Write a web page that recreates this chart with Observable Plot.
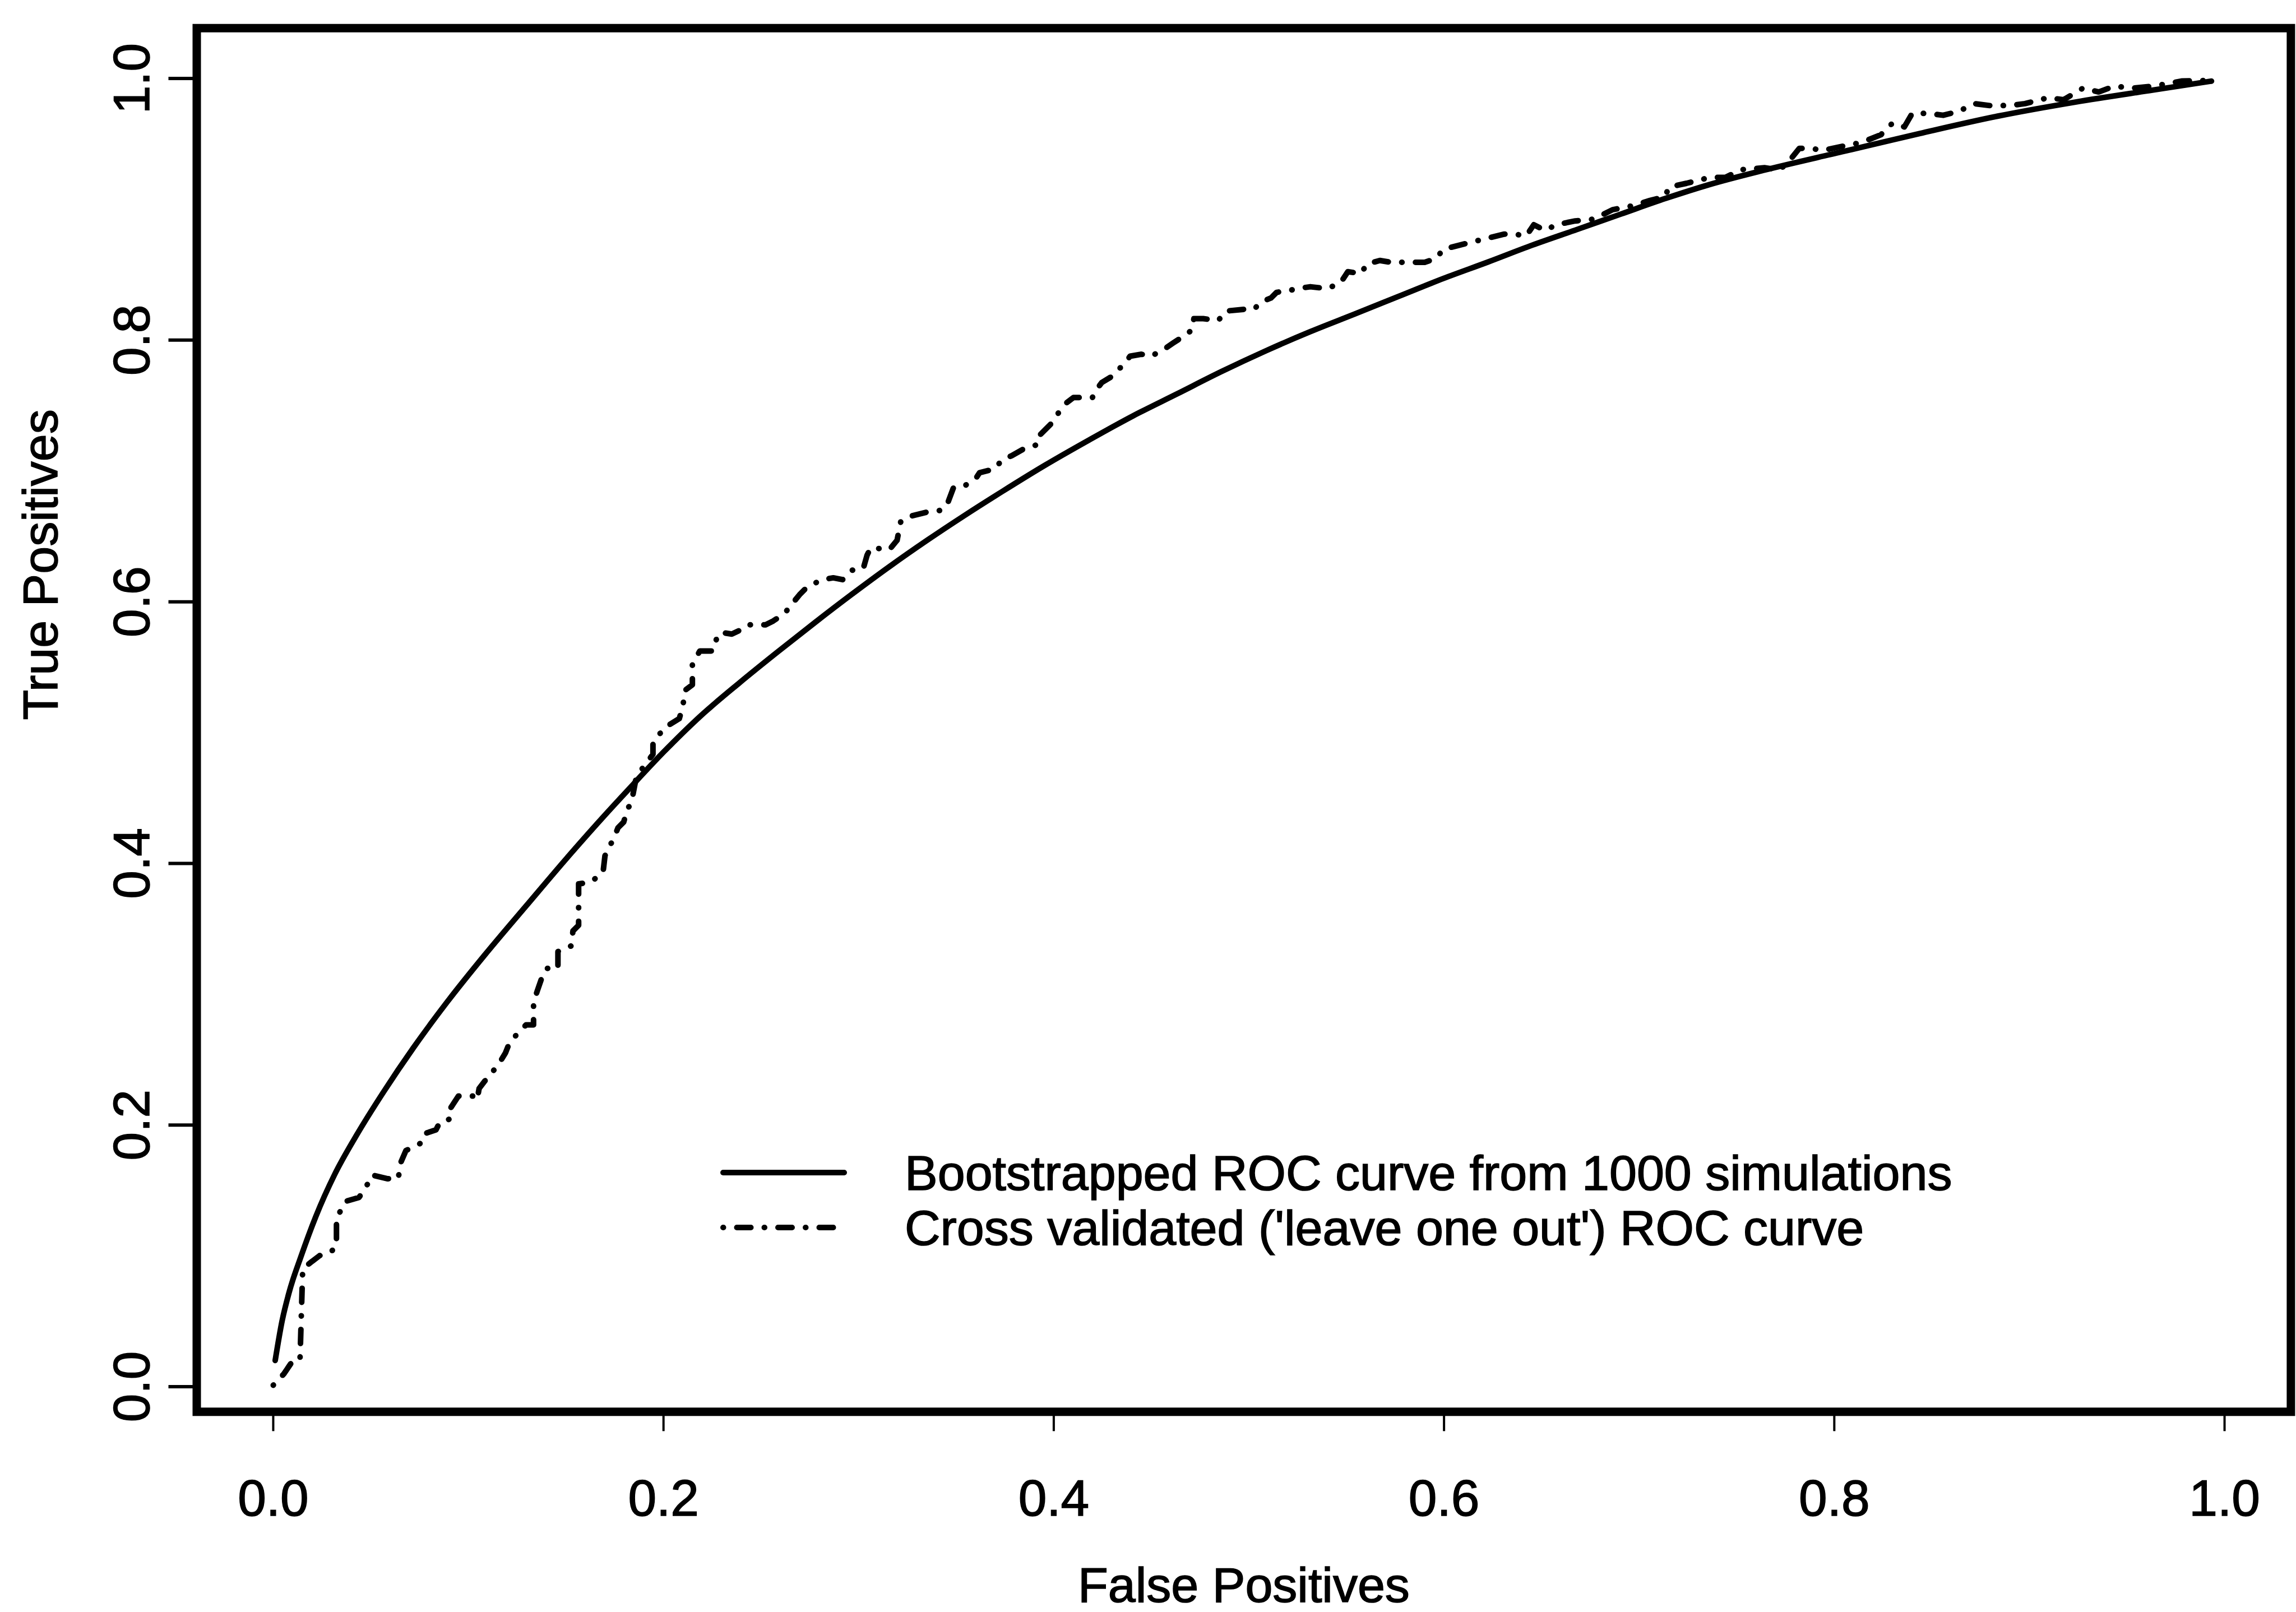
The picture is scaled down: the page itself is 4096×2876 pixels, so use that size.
<!DOCTYPE html>
<html><head><meta charset="utf-8">
<script src="https://cdn.jsdelivr.net/npm/d3@7"></script>
<script src="https://cdn.jsdelivr.net/npm/@observablehq/plot@0.6"></script>
<style>
html,body{margin:0;padding:0;background:#fff;}
#wrap{position:relative;width:4096px;height:2876px;overflow:hidden;}
#wrap svg text{stroke:#000;stroke-width:1.6px;}
</style></head><body><div id="wrap"></div>
<script>
// ---- data ----
const xTicks = [0, 0.2, 0.4, 0.6, 0.8, 1.0];
const yTicks = [0, 0.2, 0.4, 0.6, 0.8, 1.0];
const xTitle = "False Positives";
const yTitle = "True Positives";
const seriesNames = ["Bootstrapped ROC curve from 1000 simulations", "Cross validated ('leave one out') ROC curve"];

// Bootstrapped ROC curve (solid)
const bootX = [0.001, 0.0045, 0.0083, 0.0141, 0.0218, 0.0314, 0.0430, 0.0564, 0.0718, 0.0891, 0.1084, 0.1296, 0.1507, 0.1700, 0.1811, 0.2003, 0.2196, 0.2389, 0.2581, 0.2774, 0.2966, 0.3158, 0.3351, 0.3543, 0.3736, 0.3951, 0.4178, 0.4405, 0.4633, 0.4860, 0.5088, 0.5315, 0.5543, 0.5770, 0.5998, 0.6225, 0.6452, 0.6680, 0.6907, 0.7135, 0.7362, 0.7642, 0.8040, 0.8439, 0.8837, 0.9236, 0.9634, 0.9933];
const bootY = [0.020, 0.050, 0.073, 0.099, 0.130, 0.162, 0.193, 0.225, 0.259, 0.294, 0.330, 0.3675, 0.4045, 0.4370, 0.4550, 0.4855, 0.5135, 0.5380, 0.5612, 0.5839, 0.6058, 0.6269, 0.6470, 0.6660, 0.6843, 0.7040, 0.7234, 0.7420, 0.7590, 0.7760, 0.7919, 0.8065, 0.8200, 0.8336, 0.8472, 0.8597, 0.8726, 0.8845, 0.8964, 0.9083, 0.9190, 0.9300, 0.9440, 0.9580, 0.9712, 0.9820, 0.9912, 0.9980];

// Cross validated (leave one out) ROC curve (dot-dash)
const cvX = [0.0000, 0.0054, 0.0093, 0.0137, 0.0145, 0.0151, 0.0199, 0.0237, 0.0295, 0.0324, 0.0324, 0.0372, 0.0439, 0.0468, 0.0506, 0.0584, 0.0641, 0.0651, 0.0680, 0.0757, 0.0776, 0.0834, 0.0853, 0.0911, 0.0911, 0.0949, 0.1026, 0.1045, 0.1055, 0.1084, 0.1132, 0.1161, 0.1190, 0.1209, 0.1257, 0.1296, 0.1334, 0.1334, 0.1353, 0.1373, 0.1401, 0.1459, 0.1459, 0.1498, 0.1527, 0.1536, 0.1565, 0.1565, 0.1623, 0.1652, 0.1690, 0.1700, 0.1719, 0.1748, 0.1767, 0.1796, 0.1815, 0.1835, 0.1859, 0.1888, 0.1946, 0.1946, 0.2003, 0.2081, 0.2100, 0.2109, 0.2148, 0.2148, 0.2186, 0.2254, 0.2273, 0.2292, 0.2350, 0.2389, 0.2427, 0.2523, 0.2562, 0.2620, 0.2658, 0.2697, 0.2735, 0.2812, 0.2870, 0.2918, 0.2966, 0.3024, 0.3043, 0.3062, 0.3158, 0.3197, 0.3216, 0.3274, 0.3351, 0.3428, 0.3457, 0.3486, 0.3543, 0.3601, 0.3620, 0.3697, 0.3736, 0.3784, 0.3851, 0.3919, 0.3928, 0.3986, 0.4025, 0.4063, 0.4101, 0.4198, 0.4217, 0.4246, 0.4294, 0.4362, 0.4391, 0.4449, 0.4497, 0.4555, 0.4612, 0.4670, 0.4709, 0.4718, 0.4766, 0.4843, 0.4882, 0.4978, 0.5026, 0.5064, 0.5113, 0.5142, 0.5209, 0.5247, 0.5315, 0.5401, 0.5469, 0.5507, 0.5575, 0.5604, 0.5671, 0.5728, 0.5786, 0.5901, 0.5959, 0.5997, 0.6074, 0.6151, 0.6228, 0.6306, 0.6364, 0.6421, 0.6460, 0.6518, 0.6575, 0.6672, 0.6768, 0.6864, 0.6960, 0.7056, 0.7133, 0.7152, 0.7243, 0.7363, 0.7442, 0.7522, 0.7642, 0.7721, 0.7781, 0.7821, 0.7881, 0.7940, 0.8040, 0.8140, 0.8239, 0.8299, 0.8359, 0.8399, 0.8479, 0.8558, 0.8638, 0.8718, 0.8797, 0.8897, 0.8977, 0.9096, 0.9176, 0.9275, 0.9355, 0.9434, 0.9534, 0.9634, 0.9783, 0.9933];
const cvY = [0.0011, 0.0097, 0.0183, 0.0200, 0.0600, 0.0901, 0.0958, 0.1001, 0.1030, 0.1073, 0.1288, 0.1417, 0.1446, 0.1503, 0.1618, 0.1590, 0.1590, 0.1705, 0.1805, 0.1862, 0.1934, 0.1963, 0.2020, 0.2049, 0.2135, 0.2221, 0.2221, 0.2192, 0.2279, 0.2336, 0.2422, 0.2480, 0.2551, 0.2623, 0.2709, 0.2766, 0.2766, 0.2939, 0.3025, 0.3111, 0.3197, 0.3197, 0.3326, 0.3355, 0.3369, 0.3484, 0.3527, 0.3843, 0.3857, 0.3886, 0.3929, 0.4058, 0.4115, 0.4202, 0.4273, 0.4316, 0.4417, 0.4460, 0.4648, 0.4719, 0.4834, 0.4920, 0.5035, 0.5107, 0.5207, 0.5322, 0.5365, 0.5523, 0.5624, 0.5624, 0.5724, 0.5767, 0.5753, 0.5781, 0.5824, 0.5824, 0.5853, 0.5910, 0.5982, 0.6054, 0.6112, 0.6169, 0.6183, 0.6169, 0.6241, 0.6255, 0.6355, 0.6413, 0.6399, 0.6470, 0.6614, 0.6657, 0.6686, 0.6700, 0.6757, 0.6872, 0.6886, 0.6944, 0.6987, 0.7015, 0.7087, 0.7116, 0.7173, 0.7202, 0.7274, 0.7360, 0.7446, 0.7518, 0.7561, 0.7561, 0.7618, 0.7676, 0.7719, 0.7820, 0.7877, 0.7892, 0.7877, 0.7920, 0.7978, 0.8035, 0.8078, 0.8164, 0.8164, 0.8150, 0.8222, 0.8236, 0.8236, 0.8293, 0.8322, 0.8365, 0.8380, 0.8394, 0.8408, 0.8394, 0.8437, 0.8523, 0.8509, 0.8581, 0.8609, 0.8595, 0.8595, 0.8595, 0.8624, 0.8695, 0.8724, 0.8753, 0.8781, 0.8810, 0.8810, 0.8796, 0.8882, 0.8839, 0.8882, 0.8911, 0.8925, 0.8997, 0.9025, 0.9068, 0.9097, 0.9169, 0.9199, 0.9244, 0.9244, 0.9303, 0.9318, 0.9300, 0.9392, 0.9466, 0.9466, 0.9450, 0.9481, 0.9511, 0.9570, 0.9660, 0.9630, 0.9733, 0.9733, 0.9719, 0.9749, 0.9808, 0.9793, 0.9793, 0.9808, 0.9853, 0.9838, 0.9927, 0.9897, 0.9941, 0.9927, 0.9941, 0.9981, 0.9985];

// ---- build ----
const boot = bootX.map((x, i) => ({x, y: bootY[i]}));
const cv = cvX.map((x, i) => ({x, y: cvY[i]}));

const W = 4096, H = 2876;
const FONT = "'Liberation Sans', Arial, Helvetica, sans-serif";
const DASHDOT = "0.5,24,25,24";

const chart = Plot.plot({
  width: W, height: H,
  marginLeft: 350.5, marginRight: 9.6, marginTop: 49.7, marginBottom: 357.7,
  x: {domain: [-0.0392, 1.034]},
  y: {domain: [-0.0192, 1.0385]},
  style: {fontFamily: FONT, fontSize: "91px", color: "#000", background: "#fff", overflow: "visible"},
  marks: [
    Plot.axisX({ticks: xTicks, tickSize: 35, tickPadding: 86, tickFormat: d3.format(".1f"), strokeWidth: 4, fontSize: 91, label: null}),
    Plot.axisY({ticks: yTicks, tickSize: 50, tickPadding: 35, tickRotate: -90, tickFormat: d3.format(".1f"), strokeWidth: 6, fontSize: 91, label: null}),
    Plot.line(boot, {x: "x", y: "y", stroke: "#000", strokeWidth: 10, curve: "monotone-x", strokeLinecap: "round", strokeLinejoin: "round"}),
    Plot.line(cv, {x: "x", y: "y", stroke: "#000", strokeWidth: 10, strokeDasharray: DASHDOT, strokeLinecap: "round", strokeLinejoin: "round"}),
    Plot.frame({stroke: "#000", strokeWidth: 15}),
    Plot.text([xTitle], {text: d => d, frameAnchor: "bottom", dy: 310.7, fontSize: 88, lineAnchor: "middle", fill: "#000"}),
    Plot.text([yTitle], {text: d => d, frameAnchor: "left", dx: -277, rotate: -90, fontSize: 88, lineAnchor: "middle", fill: "#000"})
  ]
});
const wrap = document.getElementById("wrap");
wrap.appendChild(chart);

// ---- legend overlay (inside plot area, as in the reference) ----
const leg = d3.select(wrap).append("svg")
  .attr("width", W).attr("height", H)
  .style("position", "absolute").style("left", "0px").style("top", "0px");
const legRows = [2092, 2190];
const legDash = [null, DASHDOT];
seriesNames.forEach((name, i) => {
  leg.append("line")
    .attr("x1", 1290).attr("x2", 1506).attr("y1", legRows[i]).attr("y2", legRows[i])
    .attr("stroke", "#000").attr("stroke-width", 10).attr("stroke-linecap", "round")
    .attr("stroke-dasharray", legDash[i]);
  leg.append("text")
    .attr("x", 1614).attr("y", legRows[i] + 0.35 * 88)
    .attr("font-family", FONT).attr("font-size", 88).attr("fill", "#000")
    .text(name);
});
</script></body></html>
